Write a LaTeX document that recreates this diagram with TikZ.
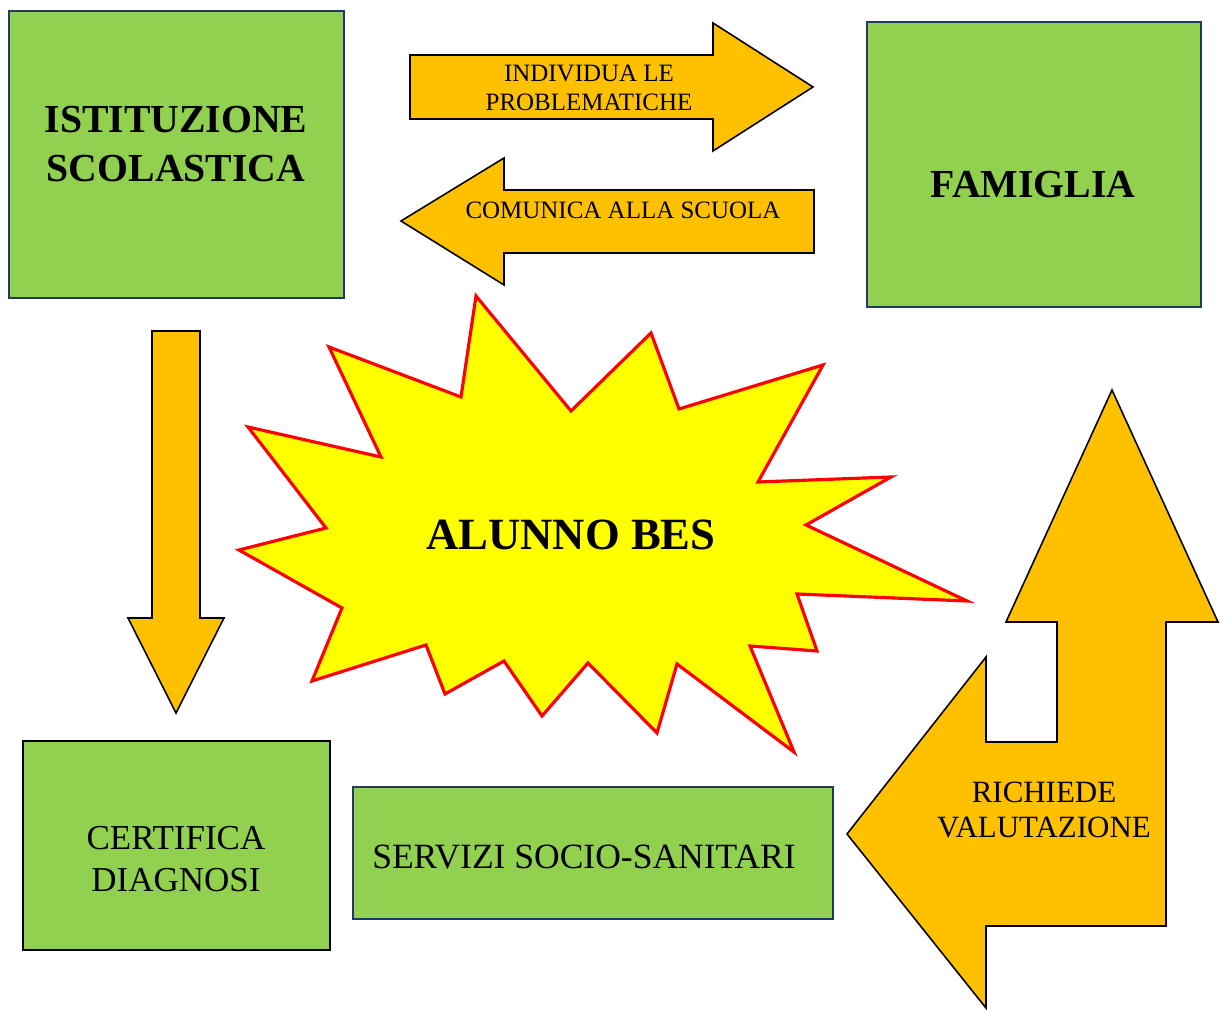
\documentclass[tikz,border=0pt]{standalone}
\usepackage{fontspec}
\setmainfont{Liberation Serif}
\definecolor{boxgreen}{HTML}{92D050}
\definecolor{arrorange}{HTML}{FFC000}
\definecolor{staryellow}{HTML}{FFFF00}
\definecolor{navy}{HTML}{203864}
\tikzset{
  box/.style={draw=navy, line width=0.6pt, fill=boxgreen, inner sep=0pt},
  blockarrow/.style={draw=black, line width=0.45pt, fill=arrorange},
  bigtxt/.style={font=\bfseries\fontsize{11.3}{13.7}\selectfont, align=center, inner sep=0pt},
}
\begin{document}
\begin{tikzpicture}[x=0.01cm,y=-0.01cm]
%\draw[step=50,gray,very thin] (0,0) grid (1221,1010); %background grid
\useasboundingbox (0,0) rectangle (1221,1010);
% green boxes
\node[box, minimum width=3.35cm, minimum height=2.87cm] (ist) at (176.5,154.5) {};
\node[box, minimum width=3.34cm, minimum height=2.85cm] (fam) at (1034,164.5) {};
\node[box, draw=black, minimum width=3.07cm, minimum height=2.09cm] (cert) at (176.5,845.5) {};
\node[box, minimum width=4.80cm, minimum height=1.32cm] (serv) at (593,853) {};
\node[bigtxt] (ist-txt) at (176,144) {ISTITUZIONE\\SCOLASTICA};
\node[bigtxt] (fam-txt) at (1033,185) {FAMIGLIA};
\node[font=\fontsize{9.95}{12}\selectfont, align=center, inner sep=0pt] (cert-txt) at (176,859) {CERTIFICA\\DIAGNOSI};
\node[font=\fontsize{10.1}{11}\selectfont, inner sep=0pt] (serv-txt) at (584,857) {SERVIZI SOCIO-SANITARI};
% block arrows
\draw[blockarrow] (410,55) -- (713,55) -- (713,23) -- (813,87) -- (713,151) -- (713,119) -- (410,119) -- cycle;
\draw[blockarrow] (814,190) -- (504,190) -- (504,158) -- (401,221) -- (504,285) -- (504,253) -- (814,253) -- cycle;
\draw[blockarrow] (152,331) -- (200,331) -- (200,618) -- (224,618) -- (176,713) -- (128,618) -- (152,618) -- cycle;
\draw[blockarrow] (1112,390) -- (1218,622) -- (1166,622) -- (1166,926) -- (986,926) -- (986,1008) -- (847,834)
  -- (986,657) -- (986,742) -- (1057,742) -- (1057,622) -- (1006,622) -- cycle;
\node[font=\fontsize{7.1}{8.2}\selectfont, align=center, inner sep=0pt] (individua) at (589,88) {INDIVIDUA LE\\PROBLEMATICHE};
\node[font=\fontsize{7.1}{8.2}\selectfont, inner sep=0pt] (comunica) at (623,210) {COMUNICA ALLA SCUOLA};
\node[font=\fontsize{8.8}{10.2}\selectfont, align=center, inner sep=0pt] (richiede) at (1044,810) {RICHIEDE\\VALUTAZIONE};
% star
\draw[red, line width=0.9pt, fill=staryellow] (476,296) -- (571,411) -- (651,333) -- (679,409) -- (823,365) -- (758,482)
  -- (891,477) -- (806,525) -- (967,601) -- (797,594) -- (817,651) -- (750,646) -- (794,752) -- (677,664)
  -- (657,733) -- (588,663) -- (542,716) -- (504,661) -- (445,694) -- (426,645) -- (312,681) -- (342,608)
  -- (239,550) -- (326,528) -- (248,427) -- (381,457) -- (329,347) -- (461,397) -- cycle;
\node[font=\bfseries\fontsize{12.7}{15}\selectfont, inner sep=0pt] (alunno) at (571,535) {ALUNNO BES};
\end{tikzpicture}
\end{document}
